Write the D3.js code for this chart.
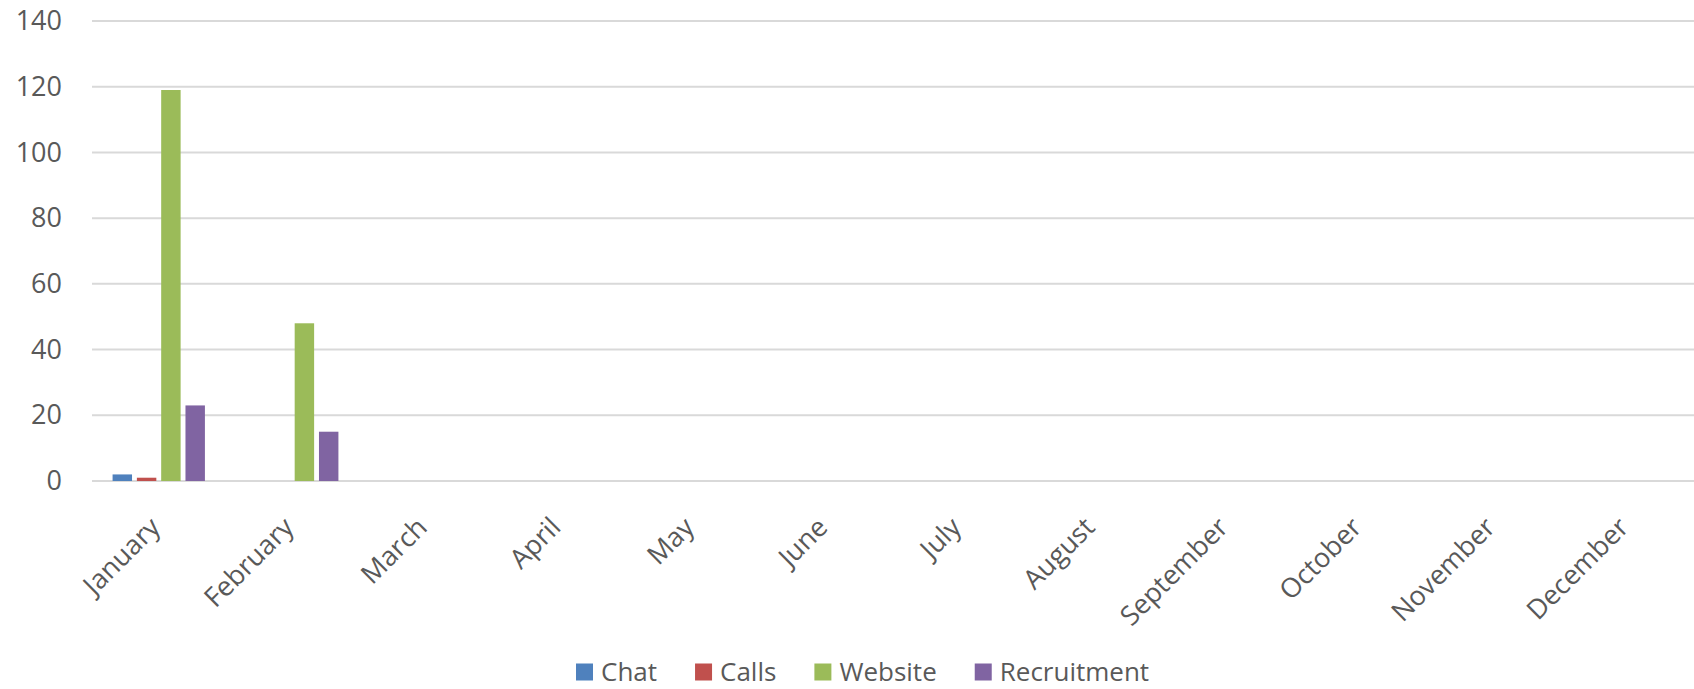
<!DOCTYPE html>
<html>
<head>
<meta charset="utf-8">
<script src="https://cdn.jsdelivr.net/npm/d3@7"></script>
<style>
    body { margin: 0; background: #fff; }
    svg { display: block; font-family: "Open Sans", sans-serif; }
</style>
</head>
<body>
<svg id="chart"></svg>
<script>
const months = ["January", "February", "March", "April", "May", "June",
    "July", "August", "September", "October", "November", "December"];
const seriesNames = ["Chat", "Calls", "Website", "Recruitment"];
const chat = [2, 0, null, null, null, null, null, null, null, null, null, null];
const calls = [1, 0, null, null, null, null, null, null, null, null, null, null];
const website = [119, 48, null, null, null, null, null, null, null, null, null, null];
const recruitment = [23, 15, null, null, null, null, null, null, null, null, null, null];
const yTicks = [0, 20, 40, 60, 80, 100, 120, 140];
const colors = ["#4f81bd", "#c0504d", "#9bbb59", "#8064a2"];

const width = 1694,
    height = 689;
const plotLeft = 92,
    plotRight = 1694,
    plotTop = 21,
    plotBottom = 481;
const textColor = "#595959";

const svg = d3.select("#chart").attr("width", width).attr("height", height);

const seriesValues = [chat, calls, website, recruitment];

const xScale = d3.scaleBand()
    .domain(months)
    .range([plotLeft, plotRight])
    .paddingInner(0.272)
    .paddingOuter(0.136);

const xInner = d3.scaleBand()
    .domain(seriesNames)
    .range([0, xScale.bandwidth()])
    .paddingInner(0.2)
    .paddingOuter(0.1);

const yScale = d3.scaleLinear()
    .domain([0, 140])
    .range([plotBottom, plotTop]);

// gridlines
svg.append("g")
    .selectAll("line")
    .data(yTicks)
    .enter()
    .append("line")
    .attr("x1", plotLeft)
    .attr("x2", plotRight)
    .attr("y1", (d) => yScale(d))
    .attr("y2", (d) => yScale(d))
    .attr("stroke", "#d9d9d9")
    .attr("stroke-width", 2);

// y axis labels
const yAxis = d3.axisLeft(yScale).tickValues(yTicks).tickSize(0).tickPadding(0);
const yG = svg.append("g")
    .attr("transform", `translate(${plotLeft - 30}, 0)`)
    .call(yAxis);
yG.select(".domain").remove();
yG.selectAll("text")
    .attr("fill", textColor)
    .style("font-size", "27px")
    .style("font-family", "'Open Sans', sans-serif");

// bars
const barData = [];
months.forEach((m, i) => {
    seriesNames.forEach((s, j) => {
        const v = seriesValues[j][i];
        if (v !== null) barData.push({ month: m, series: s, value: v, color: colors[j] });
    });
});

svg.append("g")
    .selectAll("rect")
    .data(barData)
    .enter()
    .append("rect")
    .attr("x", (d) => xScale(d.month) + xInner(d.series))
    .attr("width", xInner.bandwidth())
    .attr("y", (d) => yScale(d.value))
    .attr("height", (d) => yScale(0) - yScale(d.value))
    .attr("fill", (d) => d.color);

// x axis labels
svg.append("g")
    .selectAll("text")
    .data(months)
    .enter()
    .append("text")
    .attr("transform", (d) =>
        `translate(${xScale(d) + xScale.bandwidth() / 2 + 3}, ${plotBottom + 48}) rotate(-45)`)
    .attr("text-anchor", "end")
    .attr("fill", textColor)
    .style("font-size", "27px")
    .text((d) => d);

// legend
const legend = svg.append("g").attr("transform", "translate(576, 672)");
let lx = 0;
seriesNames.forEach((s, i) => {
    const item = legend.append("g").attr("transform", `translate(${lx}, 0)`);
    item.append("rect")
        .attr("x", 0)
        .attr("y", -8.5)
        .attr("width", 17)
        .attr("height", 17)
        .attr("fill", colors[i]);
    const t = item.append("text")
        .attr("x", 25)
        .attr("y", 0)
        .attr("dy", "0.35em")
        .attr("fill", textColor)
        .style("font-size", "26px")
        .text(s);
    lx += 25 + t.node().getComputedTextLength() + 38;
});
</script>
</body>
</html>
